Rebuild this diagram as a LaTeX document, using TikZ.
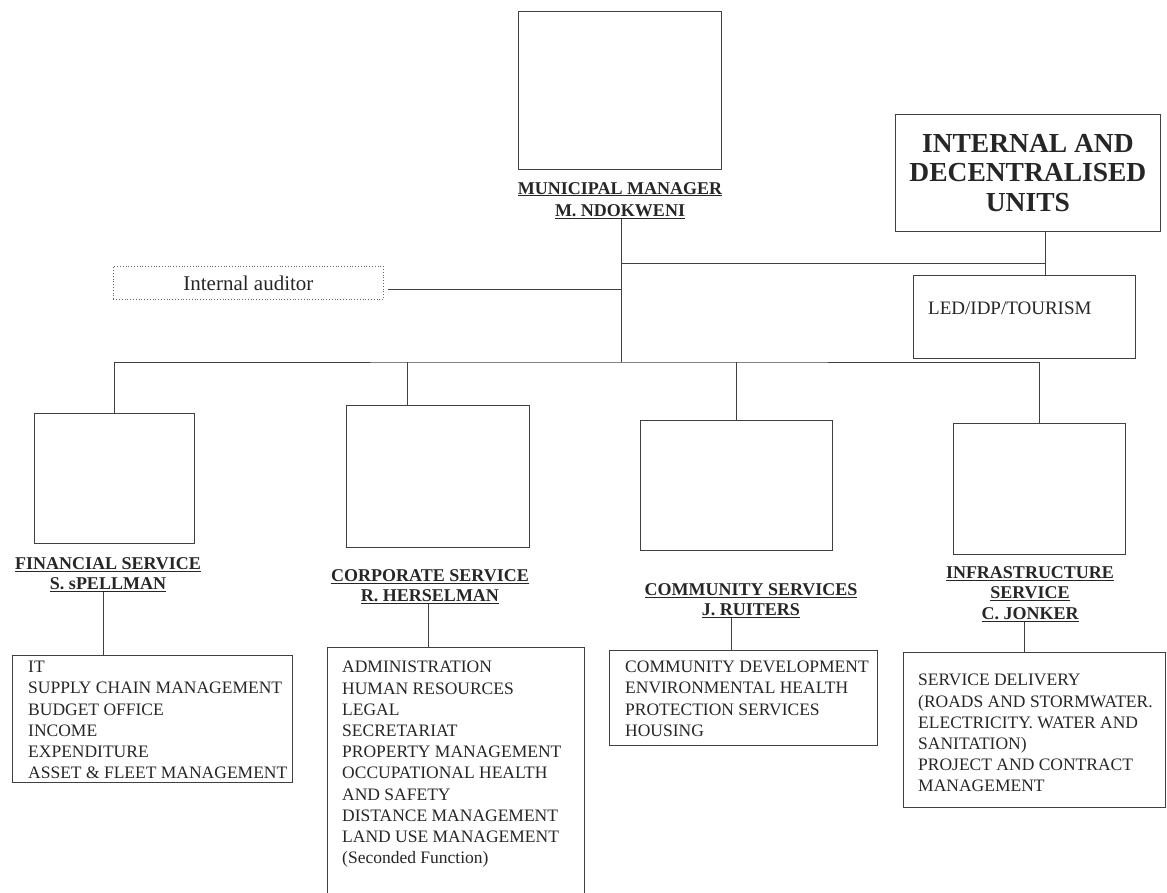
\documentclass[tikz,border=0pt]{standalone}
\usepackage{fontspec}
\setmainfont{Liberation Serif}
\usetikzlibrary{positioning}

\tikzset{
  unitbox/.style={rectangle, draw=black!75, line width=0.8pt, inner sep=0pt, anchor=north west},
  headlbl/.style={anchor=north, inner sep=0pt, align=center, text=black!85,
    font=\fontsize{18}{20.8}\selectfont\bfseries},
  listtxt/.style={anchor=north west, inner sep=0pt, align=left, text=black!85,
    font=\fontsize{17.5}{21.2}\selectfont},
  link/.style={draw=black!75, line width=0.8pt}
}

\begin{document}
\begin{tikzpicture}[x=1pt,y=-1pt]
    \clip (0,0) rectangle (1167,892);

    % top level
    \node[unitbox, minimum width=203pt, minimum height=158pt] (mmbox) at (518,11) {};
    \node[headlbl, font=\fontsize{18}{22}\selectfont\bfseries] (mmhead) at (620,182)
        {\underline{MUNICIPAL MANAGER}\\\underline{M. NDOKWENI}};

    \node[unitbox, minimum width=265pt, minimum height=117pt, align=center, text=black!85,
        font=\fontsize{27.5}{29.5}\selectfont\bfseries] (unitsbox) at (895,114)
        {INTERNAL AND\\DECENTRALISED\\UNITS};
    \node[unitbox, minimum width=222pt, minimum height=83pt] (ledbox) at (913,275) {};
    \node[anchor=west, inner sep=0pt, text=black!85, font=\fontsize{19}{22}\selectfont]
        (ledtxt) at (928,308) {LED/IDP/TOURISM};

    \node[unitbox, draw=black!60, dotted, minimum width=270pt, minimum height=33pt,
        text=black!85, font=\fontsize{21}{24}\selectfont] (auditbox) at (113,266) {Internal auditor};

    % departments
    \node[unitbox, minimum width=160pt, minimum height=130pt] (finbox) at (34,413) {};
    \node[unitbox, minimum width=183pt, minimum height=142pt] (corpbox) at (346,405) {};
    \node[unitbox, minimum width=192pt, minimum height=130pt] (combox) at (640,420) {};
    \node[unitbox, minimum width=172pt, minimum height=131pt] (infrabox) at (953,423) {};

    \node[headlbl] (finhead) at (108,557) {\underline{FINANCIAL SERVICE}\\\underline{S. sPELLMAN}};
    \node[headlbl] (corphead) at (430,569) {\underline{CORPORATE SERVICE}\\\underline{R. HERSELMAN}};
    \node[headlbl] (comhead) at (751,583) {\underline{COMMUNITY SERVICES}\\\underline{J. RUITERS}};
    \node[headlbl] (infrahead) at (1030,566)
        {\underline{INFRASTRUCTURE}\\\underline{SERVICE}\\\underline{C. JONKER}};

    % lists
    \node[unitbox, minimum width=280pt, minimum height=127pt] (finlist) at (12,655) {};
    \node[unitbox, minimum width=257pt, minimum height=260pt] (corplist) at (327,647) {};
    \node[unitbox, minimum width=268pt, minimum height=95pt] (comlist) at (609,650) {};
    \node[unitbox, minimum width=262pt, minimum height=155pt] (infralist) at (903,652) {};

    \node[listtxt] (fintxt) at ([shift={(16pt,-6pt)}]finlist.north west)
        {IT\\SUPPLY CHAIN MANAGEMENT\\BUDGET OFFICE\\INCOME\\EXPENDITURE\\ASSET \& FLEET MANAGEMENT};
    \node[listtxt] (corptxt) at ([shift={(15pt,-14pt)}]corplist.north west)
        {ADMINISTRATION\\HUMAN RESOURCES\\LEGAL\\SECRETARIAT\\PROPERTY MANAGEMENT\\
         OCCUPATIONAL HEALTH\\AND SAFETY\\DISTANCE MANAGEMENT\\LAND USE MANAGEMENT\\(Seconded Function)};
    \node[listtxt] (comtxt) at ([shift={(16pt,-11pt)}]comlist.north west)
        {COMMUNITY DEVELOPMENT\\ENVIRONMENTAL HEALTH\\PROTECTION SERVICES\\HOUSING};
    \node[listtxt] (infratxt) at ([shift={(15pt,-22pt)}]infralist.north west)
        {SERVICE DELIVERY\\(ROADS AND STORMWATER.\\ELECTRICITY. WATER AND\\SANITATION)\\
         PROJECT AND CONTRACT\\MANAGEMENT};

    % connectors
    \coordinate (unitsjoin) at (621,263);
    \coordinate (auditjoin) at (621,289);
    \coordinate (hub) at (621,362);
    \coordinate (unitsdrop) at (1045,263);

    \draw[link] (mmhead.south -| hub) -- (hub);
    \draw[link] ([xshift=4pt]auditbox.east |- auditjoin) -- (auditjoin);
    \draw[link] (unitsjoin) -- (unitsdrop);
    \draw[link] (unitsbox.south -| unitsdrop) -- (ledbox.north -| unitsdrop);

    \draw[link] (finbox.north) |- (hub) -| (infrabox.north);
    \draw[link] ([xshift=-31pt]corpbox.north) -- ([xshift=-31pt]corpbox.north |- hub);
    \draw[link] (combox.north) -- (combox.north |- hub);

    \draw[link] ([xshift=-5pt]finhead.south) -- ([xshift=-5pt]finhead.south |- finlist.north);
    \draw[link] ([xshift=-2pt]corphead.south) -- ([xshift=-2pt]corphead.south |- corplist.north);
    \draw[link] ([xshift=-20pt]comhead.south) -- ([xshift=-20pt]comhead.south |- comlist.north);
    \draw[link] ([xshift=-6pt]infrahead.south) -- ([xshift=-6pt]infrahead.south |- infralist.north);

\end{tikzpicture}
\end{document}
